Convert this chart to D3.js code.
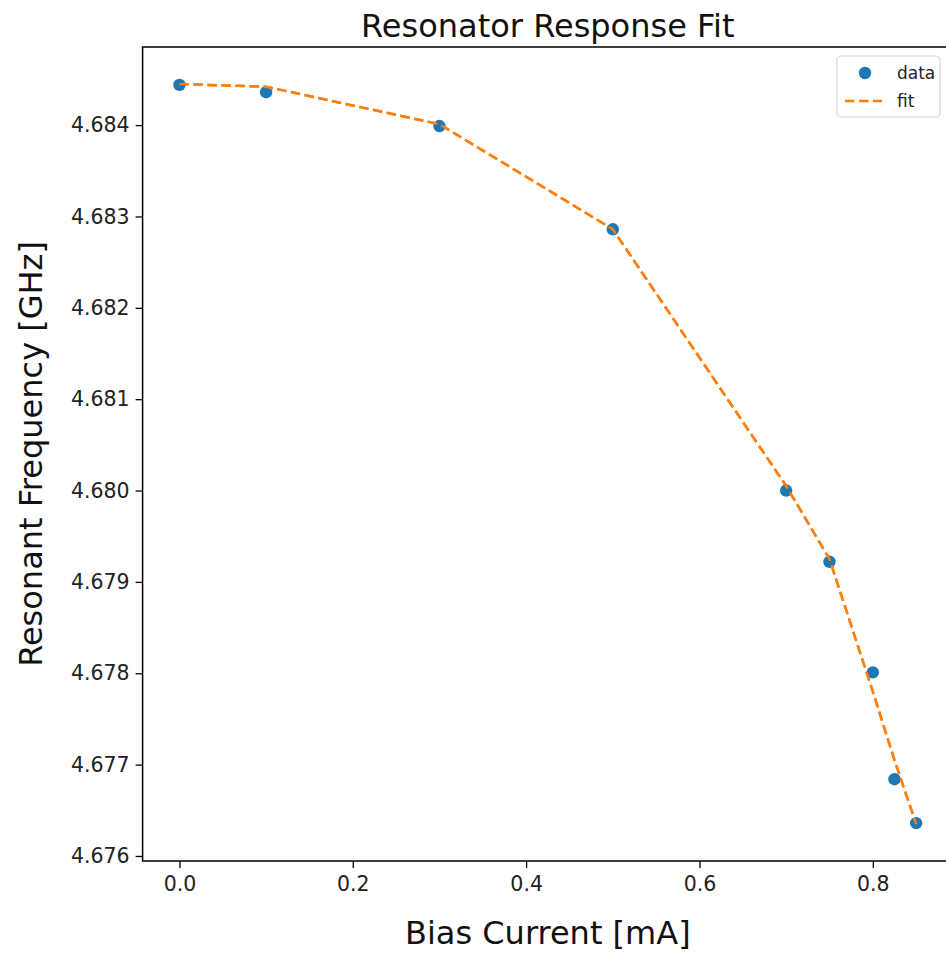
<!DOCTYPE html>
<html>
<head>
<meta charset="utf-8">
<script src="https://cdn.jsdelivr.net/npm/d3@7"></script>
<style>
html,body{margin:0;padding:0;background:#fff;overflow:hidden;}
text{font-family:"DejaVu Sans",sans-serif;}
</style>
</head>
<body>
<svg id="chart" width="946" height="954"></svg>
<script>
const biasCurrent = [0.0, 0.1, 0.3, 0.5, 0.7, 0.75, 0.8, 0.825, 0.85];
const dataFreq = [4.68444, 4.68436, 4.68399, 4.68286, 4.68000, 4.67922, 4.67801, 4.67684, 4.67636];
const fitFreq = [4.68445, 4.68442, 4.68401, 4.68286, 4.68005, 4.67925, 4.67780, 4.67705, 4.67635];
const xTicks = [0.0, 0.2, 0.4, 0.6, 0.8];
const yTicks = [4.676, 4.677, 4.678, 4.679, 4.680, 4.681, 4.682, 4.683, 4.684];
const legendLabels = ["data", "fit"];

const svg = d3.select("#chart");
const L = 142.6, R = 953, T = 47, B = 861;
const x = d3.scaleLinear().domain([-0.0425, 0.8925]).range([L, R]);
const y = d3.scaleLinear().domain([4.675945, 4.684855]).range([B, T]);

// axes
const xAxis = svg.append("g").attr("transform", `translate(0,${B})`)
  .call(d3.axisBottom(x).tickValues(xTicks).tickFormat(d3.format(".1f")).tickSizeOuter(0).tickSize(7).tickPadding(8));
const yAxis = svg.append("g").attr("transform", `translate(${L},0)`)
  .call(d3.axisLeft(y).tickValues(yTicks).tickFormat(d3.format(".3f")).tickSizeOuter(0).tickSize(7).tickPadding(6));
[xAxis, yAxis].forEach(g => {
  g.select(".domain").remove();
  g.selectAll(".tick line").attr("stroke", "#000").attr("stroke-width", 1.3);
  g.selectAll(".tick text").attr("fill", "#222").style("font-size", "20.5px").style("font-family", "DejaVu Sans");
});

// frame
svg.append("rect").attr("x", L).attr("y", T).attr("width", R - L).attr("height", B - T)
  .attr("fill", "none").attr("stroke", "#000").attr("stroke-width", 1.5);

// fit line
const line = d3.line().x((d, i) => x(biasCurrent[i])).y(d => y(d));
svg.append("path").datum(fitFreq).attr("d", line).attr("fill", "none")
  .attr("stroke", "#ff7f0e").attr("stroke-width", 2.5).attr("stroke-dasharray", "9.5,4.5");

// data points
svg.append("g").selectAll("circle").data(dataFreq).join("circle")
  .attr("cx", (d, i) => x(biasCurrent[i])).attr("cy", d => y(d)).attr("r", 6.2)
  .attr("fill", "#1f77b4");

// redraw fit line on top? matplotlib draws data first then fit
svg.append("path").datum(fitFreq).attr("d", line).attr("fill", "none")
  .attr("stroke", "#ff7f0e").attr("stroke-width", 2.5).attr("stroke-dasharray", "9.5,4.5");

// title and labels
svg.append("text").attr("x", (L + R) / 2).attr("y", 37).attr("text-anchor", "middle")
  .style("font-size", "32px").attr("fill", "#111").text("Resonator Response Fit");
svg.append("text").attr("x", (L + R) / 2).attr("y", 944).attr("text-anchor", "middle")
  .style("font-size", "32px").attr("fill", "#111").text("Bias Current [mA]");
svg.append("text").attr("transform", `translate(42,${(T + B) / 2}) rotate(-90)`).attr("text-anchor", "middle")
  .style("font-size", "32px").attr("fill", "#111").text("Resonant Frequency [GHz]");

// legend
const lg = svg.append("g");
lg.append("rect").attr("x", 837).attr("y", 56).attr("width", 103).attr("height", 61).attr("rx", 4)
  .attr("fill", "#fff").attr("fill-opacity", 0.8).attr("stroke", "#d6d6d6").attr("stroke-width", 1.2);
lg.append("circle").attr("cx", 865).attr("cy", 73).attr("r", 6.2).attr("fill", "#1f77b4");
lg.append("line").attr("x1", 845).attr("x2", 882).attr("y1", 101).attr("y2", 101)
  .attr("stroke", "#ff7f0e").attr("stroke-width", 2.5).attr("stroke-dasharray", "9.5,4.5");
lg.selectAll("text.lbl").data(legendLabels).join("text").attr("class", "lbl")
  .attr("x", 897).attr("y", (d, i) => 79 + i * 28).style("font-size", "17px").attr("fill", "#222").text(d => d);
</script>
</body>
</html>
